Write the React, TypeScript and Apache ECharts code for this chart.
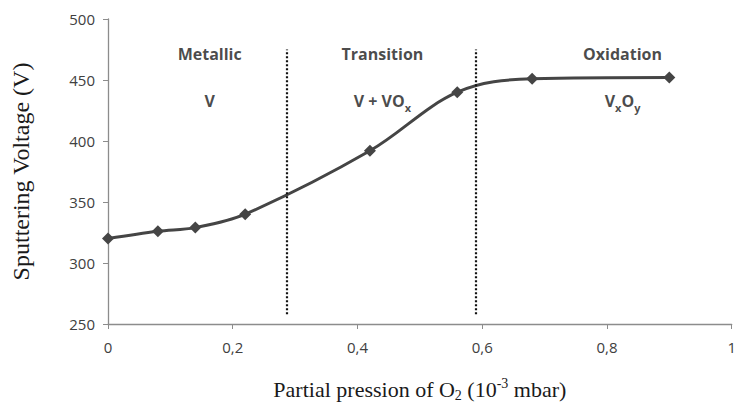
import React, { useEffect, useRef } from "react";
import * as echarts from "echarts";

const pressure = [0, 0.08, 0.14, 0.22, 0.42, 0.56, 0.68, 0.9];
const voltage = [320, 326, 329, 340, 392, 440, 451, 452];
const xTicks = [0, 0.2, 0.4, 0.6, 0.8, 1];
const yTicks = [250, 300, 350, 400, 450, 500];
const boundaries = [0.287, 0.589];
const regionNames = ["Metallic", "Transition", "Oxidation"];
const regionPhases = ["V", "V + VO{s|x}", "V{s|x}O{s|y}"];
const regionX = [0.163, 0.44, 0.825];
const regionNameY = 471;
const regionPhaseY = 433;

export default function App() {
  const ref = useRef<HTMLDivElement>(null);
  useEffect(() => {
    const chart = echarts.init(ref.current!, null, { renderer: "svg" });
    const boldFont = { fontFamily: "Open Sans", fontWeight: "bold" as const, fontSize: 16, color: "#1a1a1a" };
    chart.setOption({
      animation: false,
      backgroundColor: "#ffffff",
      grid: { left: 108, right: 2, top: 19, bottom: 76, containLabel: false },
      xAxis: {
        type: "value",
        min: 0,
        max: 1,
        interval: 0.2,
        splitLine: { show: false },
        axisLine: { lineStyle: { color: "#8c8c8c", width: 1.3 } },
        axisTick: { show: true, length: 5, lineStyle: { color: "#8c8c8c" } },
        axisLabel: {
          fontFamily: "Open Sans",
          fontSize: 15,
          color: "#404040",
          margin: 15,
          formatter: (v: number) => (xTicks.includes(Math.round(v * 10) / 10) ? String(Math.round(v * 10) / 10).replace(".", ",") : ""),
        },
        name: "Partial pression of O{sub|2} (10{sup|-3} mbar)",
        nameLocation: "middle",
        nameGap: 52,
        nameTextStyle: {
          fontFamily: "Liberation Serif",
          fontSize: 22,
          color: "#1a1a1a",
          rich: {
            sub: { fontFamily: "Liberation Serif", fontSize: 14, color: "#1a1a1a", verticalAlign: "bottom", lineHeight: 26 },
            sup: { fontFamily: "Liberation Serif", fontSize: 14, color: "#1a1a1a", verticalAlign: "top", lineHeight: 26 },
          },
        },
      },
      yAxis: {
        type: "value",
        min: 250,
        max: 500,
        interval: 50,
        splitLine: { show: false },
        axisLine: { show: true, lineStyle: { color: "#8c8c8c", width: 1.3 } },
        axisTick: { show: true, length: 5, lineStyle: { color: "#8c8c8c" } },
        axisLabel: {
          fontFamily: "Open Sans",
          fontSize: 15,
          color: "#404040",
          margin: 13,
          formatter: (v: number) => (yTicks.includes(v) ? String(v) : ""),
        },
        name: "Sputtering Voltage (V)",
        nameLocation: "middle",
        nameGap: 75,
        nameTextStyle: { fontFamily: "Liberation Serif", fontSize: 24, color: "#1a1a1a" },
      },
      series: [
        {
          type: "line",
          data: pressure.map((p, i) => [p, voltage[i]]),
          smooth: 0.35,
          symbol: "diamond",
          symbolSize: 12,
          lineStyle: { color: "#454545", width: 3 },
          itemStyle: { color: "#454545" },
          markLine: {
            silent: true,
            symbol: "none",
            label: { show: false },
            lineStyle: { color: "#111111", type: [2, 2], width: 2.2 },
            data: boundaries.map((b) => [{ coord: [b, 258] }, { coord: [b, 475] }]),
          },
        },
        {
          type: "scatter",
          symbolSize: 0,
          silent: true,
          data: regionX.map((x, i) => ({
            value: [x, regionNameY],
            label: { show: true, position: "inside", formatter: regionNames[i], ...boldFont },
          })),
        },
        {
          type: "scatter",
          symbolSize: 0,
          silent: true,
          data: regionX.map((x, i) => ({
            value: [x, regionPhaseY],
            label: {
              show: true,
              position: "inside",
              formatter: regionPhases[i],
              ...boldFont,
              rich: { s: { ...boldFont, fontSize: 11, verticalAlign: "bottom", lineHeight: 24 } },
            },
          })),
        },
      ],
    });
    return () => chart.dispose();
  }, []);
  return <div ref={ref} style={{ width: 739, height: 407, position: "absolute", left: 0, top: 0 }} />;
}
